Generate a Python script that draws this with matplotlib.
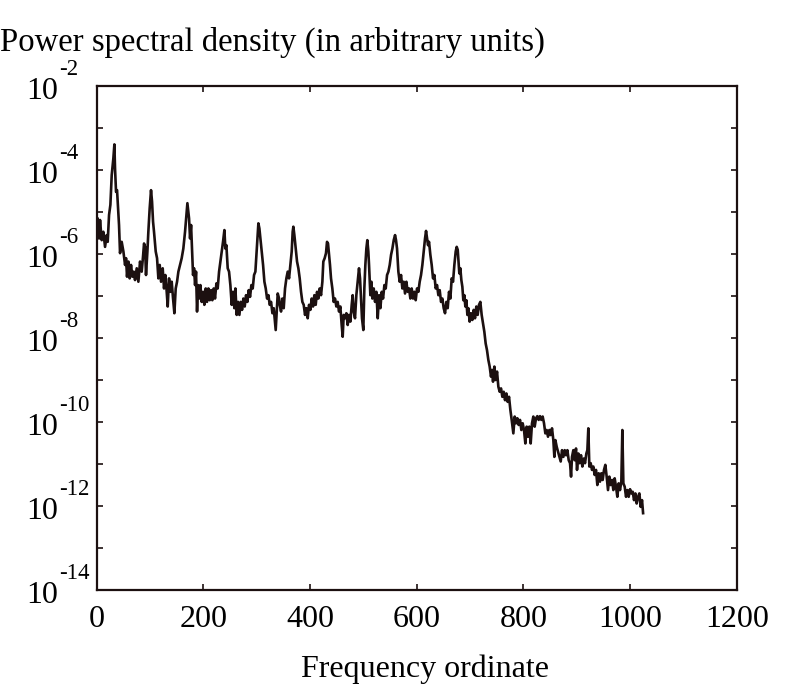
import matplotlib
matplotlib.use("Agg")
import matplotlib.pyplot as plt
import matplotlib.transforms as mtransforms
from matplotlib.ticker import FixedLocator, NullFormatter, NullLocator
import numpy as np

plt.rcParams['font.family'] = ['Liberation Serif', 'DejaVu Serif']

# frequency ordinate and log10 of the power spectral density
freq = [
    1, 1.8, 4.3, 6.2, 9.3, 12.4, 15.6, 18.7, 20.6, 23.1, 25.6, 28.1, 31.2, 33.1, 34.3,
    36.2, 38.1, 40.0, 41.8, 43.7, 46.8, 50, 53.1, 55, 56.8, 59.3, 61.8, 64.3, 66.8,
    69.3, 71.8, 75, 78.1, 81.2, 84.3, 86.8, 88.7, 90.6, 92.4, 95, 96.8, 99.3, 101.8,
    103.7, 105.6, 107.4, 110.6, 113.1, 115.6, 118.1, 120.6, 123.7, 126.2, 128.7, 131.2,
    133.1, 135.6, 138.1, 140.6, 143.1, 145.6, 148.1, 150.6, 153.1, 156.2, 159.3, 162.4,
    165.6, 168.1, 170.0,
    173.1, 175, 176.9, 178.7, 180.6, 182.5, 184.4, 186.2, 188.1, 190, 191.9, 194.4,
    196.8, 199.4, 201.8, 204.4, 206.8, 209.4, 211.8, 214.4, 216.8, 219.4, 221.8, 224.4,
    226.8, 229.4, 231.8, 234.4, 236.8, 239.4, 241.2, 243.1, 245.6, 248.1, 250.6, 253.1,
    255.6, 258.1, 260, 262.5, 265, 267.5, 270, 272.5, 275, 277.5, 280, 282.5, 285,
    287.5, 290, 292.5, 295, 297.5, 299.4, 301.2, 303.1, 305, 306.9, 309.4, 311.9, 314.4,
    316.9, 319.4, 321.9, 324.4, 326.9, 329.4, 331.9, 333.7, 335.6, 337.5, 339.4, 341.9,
    343.1, 345.6, 348.1, 350.6, 353.1, 355.6, 358.1, 360.6, 363.1, 365.6, 367.4, 368.7,
    370.6, 373.1, 375.6, 378.1, 380.6, 383.1, 385.6, 388.1, 390.6, 393.1, 395.6, 398.1,
    400.6, 403.1, 405.6, 408.1, 410.6, 413.1, 415.6, 418.1, 420.6, 423.1, 424.9, 427.4,
    429.9, 431.8, 433.7, 435.6, 437.4, 439.3, 441.8, 444.3, 446.8, 449.3, 451.8, 454.3,
    456.8, 459.3, 461.2, 463.1, 465.6, 468.1, 470.6, 473.1, 475.6, 478.1, 479.9, 481.8,
    484.3, 486.8, 489.3, 491.8, 493.7, 495.6, 497.4, 499.9, 501.8, 503.7, 505.6, 507.4,
    509.3,
    510.6, 513.1, 515, 516.9, 519.4, 521.9, 524.4, 526.9, 529.4, 531.9, 534.4, 536.9,
    539.4, 541.9, 544.4, 546.9, 549.4, 551.9, 554.4, 556.9, 559.4, 561.2, 563.1, 565.6,
    568.1, 570.6, 573.1, 575.6, 578.1, 580.6, 583.1, 585.6, 588.1, 590.6, 593.1, 595.6,
    598.1, 600.6, 603.1, 605.6, 608.1, 610.6, 613.1, 615.6, 617.5, 619.4, 621.2, 623.1,
    625.6, 628.1, 630.6, 633.1, 635.6, 638.1, 640.6, 643.1, 645.6, 648.1, 650.6, 653.1,
    655.6, 658.1, 660.6, 663.1, 665.6, 668.1, 670.6, 673.1, 675, 676.9,
    678.1, 679.9, 681.8, 683.7, 685.6, 687.4, 689.3, 691.2, 693.1, 695, 696.8, 699.3,
    701.8, 704.3, 706.8, 709.3, 711.8, 714.3, 716.8, 719.3, 721.8, 724.3, 726.8, 729.3,
    731.8, 734.3, 736.8, 739.3, 741.2, 743.1, 745.6, 748.1, 750.6, 753.1, 755.6, 758.1,
    760.6, 763.1, 765.6, 768.1, 770.6, 773.1, 775.6, 778.1,
    781.2, 783.7, 786.2, 788.7, 791.2, 793.7, 796.2, 798.7, 801.2, 803.7, 806.2, 808.7,
    811.2, 813.7, 816.2, 818.7, 821.2, 823.7, 826.2, 828.7, 831.2, 833.7, 836.2, 838.7,
    841.2, 843.7, 846.2, 848.7, 851.2, 853.7, 856.2, 858.1, 860.0, 862.5, 865, 867.5,
    870, 872.5, 875, 877.5, 880, 882.5, 885, 887.5, 889.4, 891.2, 893.7, 896.2, 898.7,
    900.6, 903.1, 905.6, 908.1, 910.6, 913.1, 915.6, 918.1, 920, 921.8, 923.7, 926.2,
    928.7, 931.2, 933.7, 936.2, 938.7, 941.2, 943.7, 946.2, 948.7, 951.2, 953.7, 956.2,
    958.7, 961.2, 963.7, 966.2, 968.7, 971.2, 973.7, 976.2, 978.7, 981.2, 983.7, 985.6,
    987.5, 990, 992.5, 995, 997.5, 1000, 1002.5, 1005, 1007.5, 1010, 1012.5, 1015,
    1017.5, 1020, 1022.5, 1024.5,
]
log_psd = [
    -5.31, -5.15, -5.63, -5.19, -5.67, -5.47, -5.83, -5.55, -5.71, -5.07, -4.83, -4.12, -3.72, -3.39, -3.96,
    -4.52, -4.48, -4.91, -5.31, -5.98, -5.71, -5.94, -6.26, -6.10, -6.54, -6.18, -6.58, -6.26, -6.54,
    -6.42, -6.62, -6.34, -6.66, -6.18, -6.42, -6.06, -5.75, -5.83, -6.50, -5.94, -5.47, -4.91, -4.48,
    -4.75, -5.23, -5.47, -5.94, -6.10, -6.58, -6.26, -6.66, -6.34, -6.82, -6.50, -6.90,
    -7.25, -6.58, -6.90, -6.66, -7.06, -7.41, -6.82, -6.66, -6.42, -6.26, -6.10, -5.87,
    -5.47, -5.07, -4.79,
    -5.15, -5.63, -5.31, -5.87, -6.50, -6.34, -6.74, -6.42, -7.37, -6.74, -7.06, -6.74,
    -7.14, -6.90, -7.21, -6.82, -7.14, -6.82, -7.10, -6.86, -7.10, -6.82, -7.06, -6.70,
    -6.82, -6.42, -6.18, -5.94, -5.71, -5.43, -5.87, -5.79, -6.34, -6.42, -6.74, -7.21,
    -6.90, -7.29, -6.82, -7.45, -7.14, -7.45, -7.14, -7.33, -7.06, -7.25, -6.98, -7.14, -6.86,
    -7.02, -6.74, -6.82, -6.50, -6.42, -6.02, -5.63, -5.27, -5.39, -5.63, -5.94, -6.26, -6.66,
    -6.82, -7.06, -6.98, -7.21, -7.14, -7.41, -7.29, -7.53, -7.81, -7.37, -6.94, -7.06,
    -7.21, -7.37, -7.06, -7.29, -6.82, -6.58, -6.42, -6.58, -6.26, -5.94, -5.47, -5.35,
    -5.55, -5.87, -6.18, -6.34, -6.58, -6.90, -7.14, -7.21, -7.45, -7.29, -7.53, -7.21,
    -7.33, -7.06, -7.25, -6.98, -7.21, -6.90, -7.06, -6.82, -6.98, -6.66, -6.18, -6.10,
    -5.98, -5.71, -5.75, -6.02, -6.26, -6.58, -6.82, -7.14, -7.06, -7.25, -7.14, -7.37,
    -7.25, -7.69, -7.97, -7.45, -7.53, -7.41, -7.69, -7.45, -7.61, -7.21, -6.98, -7.37,
    -7.53, -6.98, -6.66, -6.34, -6.58, -7.06, -7.53, -7.81, -6.82, -6.26, -5.87, -5.67,
    -5.94,
    -6.26, -6.98, -6.66, -7.06, -6.82, -7.14, -6.90, -7.53, -6.98, -7.29, -6.90, -7.06,
    -6.74, -6.82, -6.50, -6.42, -6.26, -6.02, -5.87, -5.67, -5.55, -5.67, -5.87, -6.42,
    -6.66, -6.50, -6.82, -6.66, -6.94, -6.66, -6.90, -6.82, -7.06, -6.82, -7.06, -6.90,
    -7.10, -6.82, -6.90, -6.66, -6.50, -6.26, -5.94, -5.63, -5.45, -5.63, -5.79, -5.71,
    -6.02, -6.26, -6.58, -6.50, -6.82, -6.74, -6.98, -6.86, -7.14, -7.06, -7.29, -7.41,
    -7.14, -7.29, -6.90, -7.06, -6.58, -6.66, -6.26, -5.94, -5.83, -5.90,
    -6.14, -6.46, -6.34, -6.62, -6.78, -7.10, -6.98, -7.25, -7.10, -7.45, -7.29, -7.61,
    -7.41, -7.57, -7.33, -7.53, -7.25, -7.45, -7.21, -7.14, -7.45, -7.65, -7.85, -8.13,
    -8.29, -8.52, -8.68, -8.92, -8.76, -9.04, -8.68, -9.00, -8.80, -9.16, -9.28, -9.20,
    -9.40, -9.28, -9.48, -9.32, -9.52, -9.40, -9.71, -9.95,
    -10.27, -9.87, -10.03, -9.91, -10.07, -9.95, -10.19, -10.03, -10.19, -10.51, -10.11, -10.35,
    -10.11, -10.51, -10.03, -9.87, -10.11, -9.91, -9.86, -9.95, -9.86, -9.95, -9.87, -10.03,
    -10.27, -10.19, -10.35, -10.19, -10.31, -10.15, -10.43, -10.83, -10.43, -10.59, -10.71, -10.83,
    -10.94, -10.67, -10.83, -10.67, -10.79, -10.67, -10.91, -10.98, -11.30, -10.83, -10.67, -10.91, -10.63,
    -11.14, -10.75, -10.98, -10.79, -11.06, -10.87, -10.98, -10.75, -10.67, -10.15, -11.06, -10.98,
    -11.14, -11.06, -11.26, -11.14, -11.50, -11.22, -11.42, -11.22, -11.38, -11.14, -11.02, -11.30,
    -11.62, -11.30, -11.50, -11.38, -11.62, -11.34, -11.54, -11.78, -11.46, -11.62, -11.42, -10.19,
    -11.46, -11.54, -11.78, -11.62, -11.78, -11.60, -11.70, -11.66, -11.86, -11.70, -11.94, -11.78,
    -11.70, -12.02, -11.86, -12.17,
]

x_ticks = [0, 200, 400, 600, 800, 1000, 1200]
y_exponents = [-14, -12, -10, -8, -6, -4, -2]

psd = 10.0 ** np.array(log_psd)

W, H = 789, 688
fig = plt.figure(figsize=(W / 100, H / 100), dpi=100)
ax = fig.add_axes([0.1226, 0.1424, 0.8111, 0.7326])
ax.plot(freq, psd, color='#1c1010', linewidth=1.9)

ax.set_yscale('log')
ax.set_xlim(0, 1200)
ax.set_ylim(1e-14, 1e-2)

ax.xaxis.set_major_locator(FixedLocator(x_ticks))
ax.xaxis.set_minor_locator(NullLocator())
ax.yaxis.set_major_locator(FixedLocator([10.0 ** e for e in range(-14, -1)]))
ax.yaxis.set_minor_locator(NullLocator())
ax.yaxis.set_major_formatter(NullFormatter())
ax.tick_params(direction='in', length=4, width=1.2, top=True, right=True,
               colors='#1c1010', labelcolor='black')
ax.tick_params(axis='x', labelsize=23, pad=11)
for s in ax.spines.values():
    s.set_linewidth(1.6)
    s.set_color('#1c1010')

# y tick labels written as "10" with a raised exponent, as in the original
trans = mtransforms.blended_transform_factory(fig.transFigure, ax.transData)
for e in y_exponents:
    ax.text(58.5 / W, 10.0 ** (e - 0.31), '10', fontsize=23, ha='right',
            va='baseline', transform=trans, clip_on=False)
    ax.text(59.5 / W, 10.0 ** (e + 0.262), '%d' % e, fontsize=16.5, ha='left',
            va='baseline', transform=trans, clip_on=False)

fig.text(425 / W, 1 - 677 / H, 'Frequency ordinate', fontsize=23, ha='center',
         va='baseline')
fig.text(0.0, 1 - 51 / H, 'Power spectral density (in arbitrary units)', fontsize=23.6,
         ha='left', va='baseline')

fig.savefig('out.png', dpi=100)
